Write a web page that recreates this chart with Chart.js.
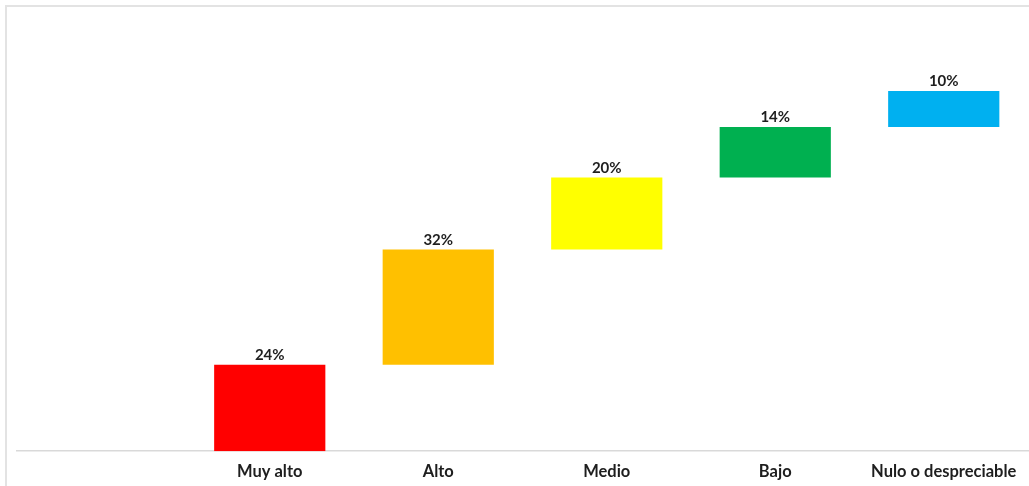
<!DOCTYPE html>
<html>
<head>
<meta charset="utf-8">
<script src="https://cdn.jsdelivr.net/npm/chart.js@4.4.1/dist/chart.umd.min.js"></script>
<style>
  html, body { margin: 0; padding: 0; background: #fff; overflow: hidden; }
  #frame {
    position: absolute; left: 5px; top: 5px;
    width: 1100px; height: 600px;
    border: 2px solid #e3e3e3;
  }
  #wrap { position: absolute; left: 0; top: 0; width: 1029px; height: 501px; }
</style>
</head>
<body>
<div id="frame"></div>
<div id="wrap"><canvas id="nivelChart"></canvas></div>
<script>
// categorias (la primera queda vacia) y porcentajes de cada nivel
var categorias = ["", "Muy alto", "Alto", "Medio", "Bajo", "Nulo o despreciable"];
var porcentajes = [null, 24, 32, 20, 14, 10];
var colores = ["#ffffff", "#FF0000", "#FFC000", "#FFFF00", "#00B050", "#00B0F0"];

// barras flotantes acumuladas (cascada)
var tramos = [];
var acumulado = 0;
porcentajes.forEach(function (v) {
  if (v === null) { tramos.push(null); return; }
  tramos.push([acumulado, acumulado + v]);
  acumulado += v;
});

// etiqueta con el porcentaje encima de cada barra
var etiquetas = {
  id: "etiquetas",
  afterDatasetsDraw: function (chart) {
    var ctx = chart.ctx;
    var meta = chart.getDatasetMeta(0);
    ctx.save();
    ctx.font = "bold 15px Lato, 'Open Sans', sans-serif";
    ctx.fillStyle = "#1e1e1e";
    ctx.textAlign = "center";
    ctx.textBaseline = "bottom";
    meta.data.forEach(function (bar, i) {
      if (porcentajes[i] === null) return;
      ctx.fillText(porcentajes[i] + "%", bar.x, bar.y - 2);
    });
    ctx.restore();
  }
};

var ctx = document.getElementById("nivelChart").getContext("2d");
var nivelChart = new Chart(ctx, {
  type: "bar",
  data: {
    labels: categorias,
    datasets: [{
      data: tramos,
      backgroundColor: colores,
      borderWidth: 0,
      barPercentage: 0.66,
      categoryPercentage: 1
    }]
  },
  options: {
    responsive: true,
    maintainAspectRatio: false,
    animation: false,
    layout: { padding: { left: 17, right: 1, top: 19, bottom: 8 } },
    plugins: {
      legend: { display: false },
      tooltip: { enabled: false }
    },
    scales: {
      x: {
        grid: { display: false, drawTicks: false },
        border: { display: true, color: "#d9d9d9", width: 1.5 },
        ticks: {
          padding: 11,
          color: "#1e1e1e",
          font: { family: "Lato, 'Open Sans', sans-serif", size: 16.5, weight: "bold" }
        }
      },
      y: {
        display: false,
        min: 0,
        max: 120
      }
    }
  },
  plugins: [etiquetas]
});
</script>
</body>
</html>
